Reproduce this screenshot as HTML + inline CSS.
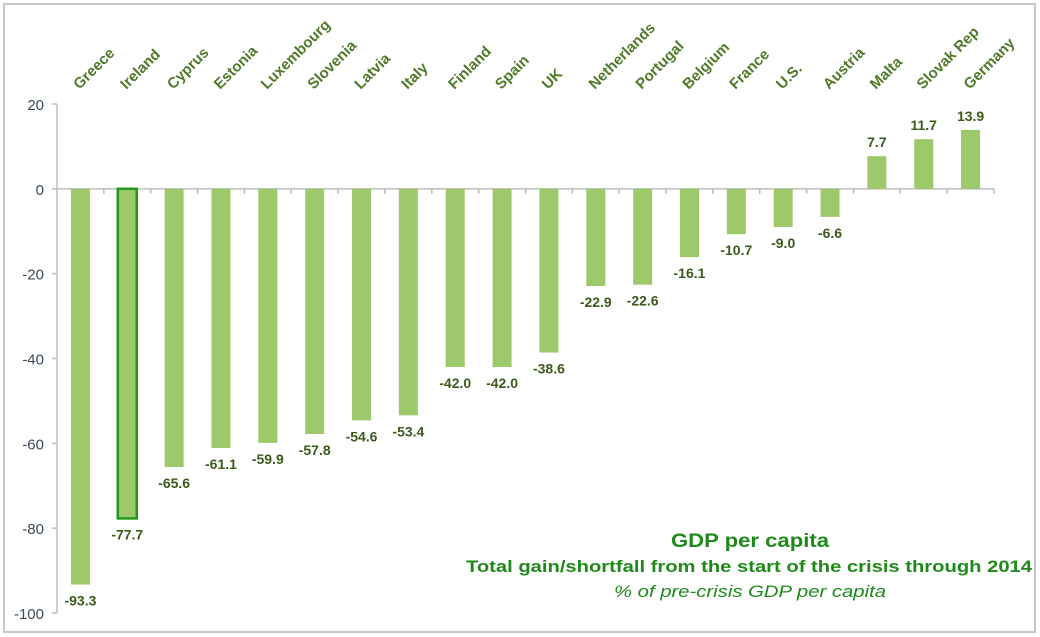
<!DOCTYPE html>
<html><head><meta charset="utf-8"><style>
html,body{margin:0;padding:0;background:#fff;}
svg{display:block;font-family:"Liberation Sans",sans-serif;}
</style></head><body>
<svg id="chart" width="1040" height="637" viewBox="0 0 1040 637">
<rect x="4" y="4" width="1031" height="628" fill="#fff" stroke="#c8c8c8" stroke-width="2"/>
<g id="axes"></g><g id="bars"></g><g id="labels"></g>
<text x="750" y="547" text-anchor="middle" font-size="19" font-weight="bold" fill="#1f8a1a" textLength="158" lengthAdjust="spacingAndGlyphs">GDP per capita</text>
<text x="749" y="572" text-anchor="middle" font-size="17" font-weight="bold" fill="#1f8a1a" textLength="566" lengthAdjust="spacingAndGlyphs">Total gain/shortfall from the start of the crisis through 2014</text>
<text x="750" y="597" text-anchor="middle" font-size="17" font-style="italic" fill="#1f8a1a" textLength="272" lengthAdjust="spacingAndGlyphs">% of pre-crisis GDP per capita</text>
</svg>
<script>
const categories = ["Greece","Ireland","Cyprus","Estonia","Luxembourg","Slovenia","Latvia","Italy","Finland","Spain","UK","Netherlands","Portugal","Belgium","France","U.S.","Austria","Malta","Slovak Rep","Germany"];
const values = [-93.3,-77.7,-65.6,-61.1,-59.9,-57.8,-54.6,-53.4,-42.0,-42.0,-38.6,-22.9,-22.6,-16.1,-10.7,-9.0,-6.6,7.7,11.7,13.9];
const yTicks = [20,0,-20,-40,-60,-80,-100];
const highlighted = ["Ireland"];

const NS="http://www.w3.org/2000/svg";
const x0=57,x1=994,yTop=104,yBot=613,vMax=20,vMin=-100;
const band=(x1-x0)/categories.length;
const y=v=>yTop+(vMax-v)*(yBot-yTop)/(vMax-vMin);
const xc=i=>x0+band*(i+0.5);
function mk(tag,attrs,parent,text){const e=document.createElementNS(NS,tag);for(const k in attrs)e.setAttribute(k,attrs[k]);if(text!==undefined)e.textContent=text;parent.appendChild(e);return e;}
const axes=document.getElementById('axes'),bars=document.getElementById('bars'),labels=document.getElementById('labels');

let ax=mk('line',{x1:x0,y1:yTop,x2:x0,y2:yBot,stroke:'#bdbdbd','stroke-width':1.5},axes);


yTicks.forEach(t=>{
  let tk=mk('line',{x1:x0-5,y1:y(t),x2:x0,y2:y(t),stroke:'#bdbdbd','stroke-width':1.5},axes);
  
  
  let tl=mk('text',{x:x0-13,y:y(t)+6,'text-anchor':'end','font-size':15,fill:'#3a4a5a'},axes,String(t));
  
  
});
let zl=mk('line',{x1:x0,y1:y(0),x2:x1,y2:y(0),stroke:'#bdbdbd','stroke-width':1.5},axes);


for(let i=1;i<=categories.length;i++){
  let ct=mk('line',{x1:x0+band*i,y1:y(0),x2:x0+band*i,y2:y(0)+5,stroke:'#bdbdbd','stroke-width':1.5},axes);
  
  
}
const bw=19;
categories.forEach((c,i)=>{
  const v=values[i],top=Math.min(y(v),y(0)),h=Math.abs(y(v)-y(0));
  const hl=highlighted.includes(c);
  let b=mk('rect',{x:xc(i)-bw/2,y:top,width:bw,height:h,fill:'#9dc96a',stroke:hl?'#1f9a1a':'none','stroke-width':hl?2.5:0},bars);
  
  
  const ly=v<0?y(v)+21:y(v)-9;
  let vl=mk('text',{x:xc(i),y:ly,'text-anchor':'middle','font-size':14,'font-weight':'bold',fill:'#3b5a1c'},labels,v.toFixed(1));
  
  
  const lx=xc(i)-1;
  let cl=mk('text',{x:lx,y:90,'font-size':15,'font-weight':'bold',fill:'#4f7a28',transform:'rotate(-45 '+lx+' 90)'},labels,c);
  
  
});
</script>
</body></html>
